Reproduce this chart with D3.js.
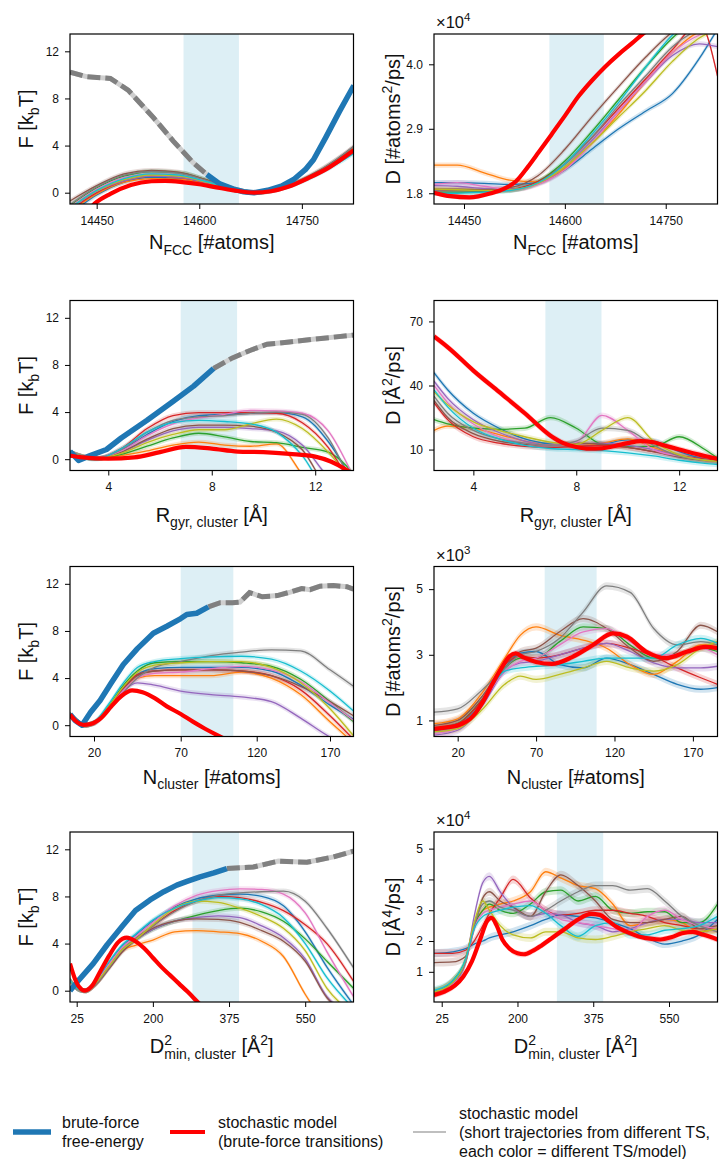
<!DOCTYPE html>
<html>
<head>
<meta charset="utf-8">
<script src="https://cdn.jsdelivr.net/npm/d3@7/dist/d3.min.js"></script>
<style>
html,body{margin:0;padding:0;background:#fff;}
svg{display:block;}
</style>
</head>
<body>
<svg id="fig" width="719" height="1159"></svg>
<script>
const FONT = '"Liberation Sans", Arial, Helvetica, sans-serif';
const tab10 = ["#1f77b4","#ff7f0e","#2ca02c","#d62728","#9467bd","#8c564b","#e377c2","#7f7f7f","#bcbd22","#17becf"];

// ---------- tick values ----------
const ticksNfcc = [14450, 14600, 14750];
const ticksF = [0, 4, 8, 12];
const ticksDNfcc = [1.8, 2.9, 4.0];
const ticksRgyr = [4, 8, 12];
const ticksDRgyr = [10, 40, 70];
const ticksNcl = [20, 70, 120, 170];
const ticksDNcl = [1, 3, 5];
const ticksD2 = [25, 200, 375, 550];
const ticksDD2 = [1, 2, 3, 4, 5];

// ---------- domains / shaded TS regions ----------
const domF = [-0.96, 13.47];
const domNfccL = [14411, 14825.5];
const domNfccR = [14405.4, 14827];
const domDNfcc = [1.617, 4.517];
const domRgyrL = [2.52, 13.48];
const domRgyrR = [2.47, 13.49];
const domDRgyr = [0.2, 79.8];
const domNclLBreaks = [6, 20, 70, 120, 170, 186];
const domNclLFrac = [0, 0.0847, 0.3905, 0.6586, 0.9171, 1];
const domNclR = [4.9, 185.7];
const domDNcl = [0.51, 5.69];
const domD2L = [9.6, 661];
const domD2R = [7.2, 662];
const domDD2 = [0.02, 5.54];
const shadeNfcc = [14577, 14658];
const shadeRgyr = [6.8, 8.98];
const shadeNclL = [70, 104.6];
const shadeNclR = [75.5, 108.6];
const shadeD2 = [291, 398];

// ---------- Panel 1: F vs N_FCC ----------
const fNfccGrid = [14411, 14450, 14490, 14530, 14570, 14610, 14650, 14680, 14720, 14760, 14800, 14825];
const fNfccThin = [
  [-1.8, -0.2, 0.9, 1.3, 1.2, 0.8, 0.25, 0, 0.4, 1.3, 2.6, 3.6],
  [-1.6, -0.1, 0.9, 1.2, 1.15, 0.8, 0.25, 0, 0.35, 1.25, 2.5, 3.5],
  [-1.1, 0.4, 1.4, 1.8, 1.7, 1.1, 0.35, 0, 0.4, 1.3, 2.7, 3.7],
  [-1.5, 0.0, 1.0, 1.4, 1.3, 0.85, 0.27, 0, 0.38, 1.3, 2.6, 3.7],
  [-1.4, 0.1, 1.0, 1.4, 1.3, 0.85, 0.25, 0, 0.35, 1.25, 2.5, 3.5],
  [-0.7, 0.6, 1.6, 1.9, 1.75, 1.1, 0.35, 0, 0.4, 1.4, 2.8, 3.9],
  [-1.2, 0.3, 1.3, 1.6, 1.5, 1.0, 0.3, 0, 0.35, 1.3, 2.6, 3.6],
  [-1.0, 0.5, 1.5, 1.8, 1.65, 1.05, 0.3, 0, 0.4, 1.35, 2.8, 3.9],
  [-1.3, 0.15, 1.1, 1.5, 1.4, 0.9, 0.28, 0, 0.38, 1.3, 2.6, 3.7],
  [-1.3, 0.2, 1.2, 1.6, 1.5, 0.95, 0.3, 0, 0.35, 1.2, 2.4, 3.3]
];
const fNfccBlue = [[14611,1.55],[14630,0.75],[14650,0.3],[14665,0.08],[14680,0],[14700,0.2],[14720,0.56],[14738,1.12],[14755,1.95],[14767,2.8],[14785,4.7],[14805,6.9],[14826,9.1]];
const fNfccGray = [[14411,10.24],[14435,9.85],[14470,9.7],[14496,8.71],[14533,6.37],[14562,4.38],[14591,2.55],[14611,1.55]];
const fNfccRed = [[14430,-2.0],[14447,-0.93],[14470,-0.1],[14500,0.65],[14530,0.97],[14550,1.0],[14575,0.9],[14600,0.72],[14625,0.45],[14650,0.2],[14680,0.0],[14705,0.12],[14730,0.5],[14760,1.25],[14790,2.15],[14826,3.6]];

// ---------- Panel 2: D vs N_FCC (x1e4) ----------
const dNfccGrid = [14405, 14440, 14480, 14520, 14560, 14600, 14640, 14680, 14720, 14760, 14800, 14827];
const dNfccThin = [
  [1.98,1.98,1.97,1.95,1.98,2.2,2.55,2.9,3.2,3.5,4.1,4.6],
  [2.28,2.28,2.15,2.02,2.0,2.22,2.65,3.15,3.7,4.2,4.55,4.6],
  [1.82,1.82,1.83,1.86,2.0,2.35,2.85,3.4,3.95,4.45,4.8,4.9],
  [1.86,1.85,1.85,1.87,2.0,2.3,2.75,3.25,3.75,4.25,4.7,3.8],
  [1.93,1.92,1.88,1.87,1.96,2.25,2.7,3.2,3.7,4.15,4.35,4.3],
  [1.87,1.87,1.86,1.9,2.1,2.55,3.1,3.62,4.12,4.55,4.8,4.9],
  [1.95,1.98,1.92,1.86,1.95,2.2,2.65,3.2,3.7,4.2,4.5,4.6],
  [1.84,1.84,1.84,1.86,1.98,2.3,2.75,3.3,3.8,4.3,4.6,4.7],
  [1.87,1.86,1.85,1.86,1.97,2.25,2.65,3.1,3.55,4.05,4.45,4.6],
  [1.80,1.80,1.82,1.85,1.98,2.3,2.8,3.35,3.95,4.5,4.85,5.0]
];
const dNfccRed = [[14405,1.81],[14430,1.75],[14458,1.73],[14490,1.8],[14510,1.88],[14527,2.0],[14545,2.25],[14561,2.5],[14580,2.8],[14600,3.12],[14620,3.45],[14640,3.72],[14660,3.96],[14680,4.17],[14700,4.36],[14716,4.52],[14740,4.72]];

// ---------- Panel 3: F vs R_gyr ----------
const fRgyrGrid = [2.52, 3.5, 4.5, 5.5, 6.5, 7.5, 8.5, 9.5, 10.5, 11.5, 12.5, 13.48];
const fRgyrThin = [
  [0.6, 0.05, 0.75, 2.1, 3.2, 3.7, 3.8, 3.9, 3.95, 3.6, 1.5, -2],
  [0.6, 0.05, 0.3, 0.7, 1.2, 1.45, 1.2, 1.1, 1.3, -1.3, -4, -5],
  [0.6, 0.05, 0.4, 1.1, 1.8, 2.2, 1.9, 1.5, 1.4, 1.0, 0.6, -1.2],
  [0.6, 0.05, 0.9, 2.6, 3.7, 3.95, 3.95, 3.95, 3.9, 3.1, 1.0, -2.5],
  [0.6, 0.05, 0.6, 1.6, 2.4, 2.7, 2.7, 2.6, 2.4, 1.2, -1.5, -3],
  [0.6, 0.05, 0.6, 1.7, 2.6, 2.9, 2.9, 2.8, 2.3, 0.8, -2.5, -3.5],
  [0.6, 0.05, 0.7, 2.0, 3.0, 3.5, 3.8, 4.15, 4.1, 3.9, 2.4, -1.5],
  [0.6, 0.05, 0.8, 2.3, 3.3, 3.6, 3.7, 3.9, 4.0, 3.8, 1.8, -2.5],
  [0.6, 0.05, 0.5, 1.4, 2.1, 2.5, 2.5, 3.0, 3.4, 2.6, 0.6, -2],
  [0.6, 0.0, 0.9, 2.3, 3.1, 3.3, 3.2, 3.0, 2.3, 0.3, -3, -4]
];
const fRgyrBlue = [[2.52,0.65],[2.85,-0.1],[3.3,0.3],[3.93,0.82],[4.5,1.8],[5.5,3.3],[6.5,4.9],[7.3,6.2],[8.07,7.7]];
const fRgyrGray = [[8.07,7.7],[8.8,8.6],[9.5,9.25],[10.14,9.76],[11,9.95],[12,10.2],[13.48,10.53]];
const fRgyrRed = [[2.52,0.3],[3,0.15],[4,0.05],[5,0.15],[6,0.6],[7,1.05],[8,0.9],[9,0.65],[10,0.6],[11,0.45],[12,0.22],[12.6,-0.2],[13.2,-0.9],[13.48,-1.3]];

// ---------- Panel 4: D vs R_gyr ----------
const dRgyrGrid = [2.47, 3, 4, 5, 6, 7, 8, 9, 10, 11, 12, 13, 13.49];
const dRgyrThin = [
  [46, 38, 27, 20, 15, 12.5, 11.5, 12.5, 14.5, 14, 9, 5.5, 4.5],
  [19, 21, 20, 17, 14, 12, 12, 13, 15, 11, 7, 5, 4.5],
  [24, 22, 20, 19.5, 20, 25, 20, 12.5, 11.5, 11.5, 16, 10, 6],
  [32, 24, 16, 13, 11.5, 11, 11.5, 12, 11, 9, 7, 5.5, 5],
  [42, 34, 24, 18, 14, 12, 12.5, 13, 12, 10, 7, 5, 4.5],
  [33, 25, 17.5, 14, 12.5, 12, 13, 12.5, 11, 9, 6.5, 5, 4.5],
  [40, 32, 22, 16, 13, 12, 13.5, 26, 19, 10, 7, 5, 4.5],
  [35, 27, 19, 15, 13, 12, 14, 20, 19, 12, 7, 5, 4.5],
  [37, 31, 23, 19, 16, 13.5, 12.5, 19, 25, 14, 7.5, 5, 4.5],
  [38, 30, 20, 15, 12, 10.5, 10, 9.5, 8.5, 7, 5, 3.5, 3]
];
const dRgyrRed = [[2.47,63],[3,58],[4,47],[5,37],[6,27],[7,16.5],[7.5,13],[8,11.2],[8.5,10.4],[9,10.6],[9.5,11.7],[10,13],[10.5,14],[11,13.4],[11.5,11.7],[12,10],[12.5,8.4],[13,7],[13.49,5.6]];

// ---------- Panel 5: F vs N_cluster ----------
const fNclGrid = [6, 10, 14, 20, 28, 36, 45, 55, 70, 90, 110, 130, 150, 170, 186];
const fNclThin = [
  [0.9, 0.4, 0, 0.2, 1.4, 3.0, 4.3, 4.8, 4.9, 4.9, 4.9, 4.6, 3.4, 1.7, 0.5],
  [0.9, 0.4, 0, 0.2, 1.4, 3.0, 4.0, 4.2, 4.2, 4.2, 4.5, 4.0, 2.6, 0.3, -1.5],
  [0.9, 0.4, 0, 0.2, 1.5, 3.2, 4.6, 5.3, 5.4, 5.4, 5.3, 5.0, 3.9, 2.0, 0.3],
  [0.9, 0.4, 0, 0.2, 1.4, 3.0, 4.3, 4.6, 4.7, 4.7, 4.6, 4.2, 3.0, 0.8, -1.2],
  [0.9, 0.4, 0, 0.2, 1.4, 2.8, 3.6, 3.4, 2.9, 2.6, 2.4, 2.0, 0.6, -1.0, -1.8],
  [0.9, 0.4, 0, 0.15, 1.3, 2.9, 4.2, 4.6, 4.7, 4.7, 4.6, 4.2, 3.3, 2.0, 0.8],
  [0.9, 0.4, 0, 0.15, 1.3, 2.8, 4.0, 4.4, 4.5, 4.8, 5.0, 4.7, 3.7, 1.9, 0.4],
  [0.9, 0.4, 0, 0.15, 1.2, 2.6, 4.0, 4.9, 5.4, 5.9, 6.2, 6.4, 6.3, 4.7, 3.3],
  [0.9, 0.4, 0, 0.2, 1.5, 3.1, 4.5, 5.1, 5.3, 5.4, 5.4, 4.9, 3.6, 1.4, -0.9],
  [0.9, 0.4, 0, 0.25, 1.7, 3.4, 4.9, 5.4, 5.65, 5.8, 5.85, 5.6, 4.6, 2.9, 1.2]
];
const fNclBlue = [[6,0.93],[9,0.4],[13,0],[18,1.1],[23.5,2.1],[30,3.6],[36.9,5.15],[45,6.5],[54.2,7.8],[62,8.4],[70,9.05],[74,9.4],[80.5,9.5],[88.2,10.05]];
const fNclGray = [[88.2,10.05],[96,10.4],[104,10.4],[109,10.45],[115.3,11.25],[123.8,10.9],[134,11.0],[143,11.3],[150.7,11.6],[156.4,11.5],[163.2,11.8],[172.3,11.85],[181.5,11.75],[186,11.55]];
const fNclRed = [[6,0.9],[9,0.4],[14,0.03],[18,0.1],[24,0.6],[30,1.6],[36,2.5],[42,2.95],[48,2.8],[55,2.3],[62,1.6],[70,0.95],[78,0.3],[86,-0.3],[95,-0.9],[105,-1.5]];

// ---------- Panel 6: D vs N_cluster (x1e3) ----------
const dNclGrid = [4.9, 20, 35, 50, 60, 70, 85, 100, 115, 130, 145, 160, 175, 185.7];
const dNclThin = [
  [0.7, 0.85, 1.6, 2.6, 3.05, 3.1, 2.7, 2.6, 2.9, 2.7, 2.4, 2.1, 1.95, 2.0],
  [0.9, 1.05, 1.8, 2.9, 3.6, 3.85, 3.6, 3.45, 3.2, 2.7, 2.4, 2.8, 3.3, 3.3],
  [0.75, 0.9, 1.6, 2.6, 2.9, 2.9, 3.4, 3.85, 3.8, 3.3, 2.9, 3.0, 3.2, 3.1],
  [0.75, 0.9, 1.6, 2.7, 2.95, 2.9, 3.0, 3.2, 3.35, 3.2, 2.95, 2.6, 2.3, 2.1],
  [0.55, 0.7, 1.4, 2.5, 2.75, 2.8, 3.0, 3.2, 3.35, 3.1, 2.75, 2.6, 2.6, 2.65],
  [0.85, 1.0, 1.7, 2.7, 3.1, 3.2, 3.7, 4.1, 3.8, 3.2, 2.8, 3.1, 3.9, 3.7],
  [0.6, 0.75, 1.5, 2.5, 2.8, 2.9, 3.3, 3.7, 3.8, 3.4, 3.0, 3.0, 3.2, 3.0],
  [1.25, 1.35, 1.9, 2.6, 3.0, 3.1, 3.5, 4.3, 5.1, 4.9, 3.8, 3.3, 3.4, 3.3],
  [0.65, 0.75, 1.3, 2.1, 2.35, 2.25, 2.4, 2.6, 2.8, 2.6, 2.5, 2.7, 3.2, 3.4],
  [0.7, 0.85, 1.5, 2.5, 2.6, 2.65, 2.7, 2.8, 2.9, 2.9, 2.9, 3.3, 3.5, 3.35]
];
const dNclRed = [[4.9,0.74],[12,0.78],[21,0.86],[28,1.05],[36,1.56],[42,2.1],[48,2.6],[53,2.95],[57,3.04],[62,2.92],[70,2.78],[80,2.72],[93,2.93],[106,3.29],[119,3.65],[128,3.55],[140,3.1],[153,2.9],[166,3.09],[178,3.24],[185.7,3.2]];

// ---------- Panel 7: F vs D2min ----------
const fD2Grid = [9.6, 30, 45, 70, 100, 130, 160, 200, 250, 300, 350, 400, 450, 500, 550, 600, 661];
const fD2Thin = [
  [0.9, 0.1, 0, 0.8, 2.4, 3.8, 4.7, 5.9, 7.1, 7.8, 8.1, 8.2, 8.0, 7.2, 5.0, 2.0, -1.2],
  [0.9, 0.1, 0, 0.6, 2.0, 3.4, 3.85, 4.3, 5.0, 5.1, 5.0, 4.85, 4.2, 2.9, -0.3, -3, -5],
  [0.9, 0.1, 0, 0.6, 2.0, 3.4, 4.3, 5.2, 5.9, 6.4, 6.8, 7.0, 6.7, 5.9, 4.4, 2.5, 0.2],
  [0.9, 0.1, 0, 0.6, 2.0, 3.4, 4.4, 5.5, 6.8, 7.6, 8.0, 7.9, 7.5, 6.8, 5.6, 4.0, 0.8],
  [0.9, 0.1, 0, 0.6, 2.0, 3.4, 4.3, 5.2, 5.9, 6.2, 6.35, 6.2, 5.5, 4.5, 2.7, -0.5, -2],
  [0.9, 0.1, 0, 0.6, 1.9, 3.3, 4.3, 5.3, 5.9, 6.1, 6.05, 5.8, 5.1, 4.2, 2.5, -0.6, -2],
  [0.9, 0.1, 0, 0.8, 2.3, 3.7, 4.6, 5.8, 7.2, 8.1, 8.5, 8.65, 8.6, 8.2, 6.6, 3.3, -0.5],
  [0.9, 0.1, 0, 0.6, 2.0, 3.5, 4.4, 5.5, 6.7, 7.6, 8.1, 8.3, 8.4, 8.45, 7.6, 5.3, 1.95],
  [0.9, 0.1, 0, 0.7, 2.1, 3.5, 4.3, 5.6, 7.0, 7.6, 7.5, 7.0, 6.3, 5.3, 3.4, 0.2, -2],
  [0.9, 0.1, 0, 0.9, 2.5, 3.9, 4.8, 6.0, 7.0, 7.6, 7.9, 7.8, 7.3, 6.2, 4.0, 1.1, -1.5]
];
const fD2Blue = [[9.6,0.0],[30,0.9],[63,2.3],[95,3.9],[132,5.57],[160,6.8],[193.5,7.7],[225,8.4],[255,8.96],[280,9.3],[308.5,9.66],[340,10.0],[370,10.37]];
const fD2Gray = [[370,10.37],[431,10.5],[488.6,11.0],[553.9,10.9],[615,11.36],[661,11.84]];
const fD2Red = [[9.6,2.3],[20,1.1],[30,0.35],[44,0],[60,0.4],[80,1.7],[100,3.0],[120,4.1],[140,4.5],[160,4.2],[180,3.6],[200,2.8],[220,2.0],[240,1.3],[260,0.6],[280,-0.1],[300,-0.85],[320,-1.6]];

// ---------- Panel 8: D vs D2min (x1e4) ----------
const dD2Grid = [7.2, 50, 80, 100, 120, 135, 160, 190, 230, 265, 300, 340, 380, 420, 460, 500, 540, 580, 620, 662];
const dD2Thin = [
  [1.6,1.65,1.75,1.9,2.0,2.1,2.2,2.3,2.5,2.7,2.85,2.8,2.75,2.6,2.4,2.1,1.9,2.0,2.2,2.7],
  [0.3,0.7,1.3,2.5,3.0,3.1,3.2,3.3,3.6,4.25,4.05,3.8,3.7,3.2,2.5,2.6,2.7,2.6,2.3,2.4],
  [0.35,0.7,1.4,2.5,3.0,3.2,3.0,2.9,3.2,3.6,3.65,3.3,3.45,3.0,2.9,2.95,2.95,2.6,2.6,3.2],
  [1.6,1.6,1.7,2.0,2.5,2.9,3.4,4.0,3.4,3.0,2.85,2.9,3.0,3.0,2.9,2.8,2.6,2.5,2.4,2.4],
  [0.3,0.6,1.3,2.8,3.9,4.1,3.6,3.1,2.8,2.9,2.85,2.6,2.5,2.3,2.4,2.6,2.7,2.7,2.6,2.6],
  [1.3,1.32,1.5,2.4,3.4,3.6,3.3,3.1,2.8,3.6,4.15,3.8,3.3,2.7,2.6,2.6,2.7,2.8,2.4,2.5],
  [0.3,0.6,1.3,2.4,2.9,3.0,3.1,3.2,3.3,3.0,2.7,2.6,2.5,2.4,2.3,2.8,3.0,2.7,2.5,2.4],
  [0.35,0.65,1.3,2.5,3.2,3.3,3.1,3.0,2.8,3.0,3.3,3.6,3.8,3.8,3.65,3.7,3.3,2.8,2.5,2.3],
  [0.35,0.65,1.4,2.6,3.3,3.0,2.5,2.2,2.1,2.3,2.3,2.1,2.05,2.15,2.3,2.4,2.5,2.35,2.3,2.4],
  [0.4,0.7,1.4,2.4,2.8,2.9,3.0,3.1,3.15,2.9,2.5,2.15,2.5,2.6,2.2,2.2,2.35,2.4,2.5,2.8]
];
const dD2Red = [[7.2,0.25],[30,0.35],[55,0.55],[75,0.85],[95,1.35],[115,2.1],[130,2.65],[140,2.75],[152,2.5],[165,2.05],[182,1.75],[200,1.6],[215,1.57],[235,1.68],[255,1.85],[280,2.1],[310,2.4],[340,2.7],[370,2.88],[390,2.85],[410,2.65],[430,2.45],[455,2.28],[480,2.15],[510,2.07],[530,2.05],[555,2.12],[580,2.25],[605,2.3],[630,2.2],[662,2.05]];

// ---------- labels ----------
const lblNfcc = [["N"],["FCC","sub"],[" [#atoms]"]];
const lblRgyr = [["R"],["gyr, cluster","sub"],[" [Å]"]];
const lblNcl = [["N"],["cluster","sub"],[" [#atoms]"]];
const lblD2 = [["D"],["2","sup"],["min, cluster","sub",-7.8],[" [Å"],["2","sup"],["]"]];
const lblF = [["F [k"],["b","sub"],["T]"]];
const lblDatoms = [["D [#atoms"],["2","sup"],["/ps]"]];
const lblDA2 = [["D [Å"],["2","sup"],["/ps]"]];
const lblDA4 = [["D [Å"],["4","sup"],["/ps]"]];
const legendTexts = [
  ["brute-force", "free-energy"],
  ["stochastic model", "(brute-force transitions)"],
  ["stochastic model", "(short trajectories from different TS,", "each color = different TS/model)"]
];

// ---------- layout ----------
const W = 283.5, H = 170;
const colLeft = [70, 434];
const rowTop = [34, 300.5, 566.5, 832];
const xLabelOff = [45, 51, 47, 51];

const svg = d3.select("#fig");
const defs = svg.append("defs");

function rich(sel, parts, fs) {
  let level = 0;
  parts.forEach(p => {
    const kind = p[1];
    const target = kind === "sub" ? 0.28 * fs : kind === "sup" ? -0.42 * fs : 0;
    const ts = sel.append("tspan").text(p[0]).attr("dy", target - level);
    if (kind) ts.attr("font-size", 0.7 * fs);
    if (p[2]) ts.attr("dx", p[2]);
    level = target;
  });
}

function drawPanel(o) {
  const left = colLeft[o.col], top = rowTop[o.row];
  const x = o.xFrac
    ? d3.scaleLinear().domain(o.xDomain).range(o.xFrac.map(f => left + f * W))
    : d3.scaleLinear().domain(o.xDomain).range([left, left + W]);
  const y = d3.scaleLinear().domain(o.yDomain).range([top + H, top]);
  const cid = "clip" + o.id;
  defs.append("clipPath").attr("id", cid).append("rect")
    .attr("x", left).attr("y", top).attr("width", W).attr("height", H);
  const g = svg.append("g").attr("clip-path", `url(#${cid})`);

  g.append("rect").attr("x", x(o.shade[0])).attr("y", top)
    .attr("width", x(o.shade[1]) - x(o.shade[0])).attr("height", H)
    .attr("fill", "#add8e6").attr("fill-opacity", 0.42);

  const curve = d3.curveMonotoneX;
  const line = d3.line().x(d => x(d[0])).y(d => y(d[1])).curve(curve);
  const lineLin = d3.line().x(d => x(d[0])).y(d => y(d[1]));
  const area = b => d3.area().x(d => x(d[0])).y0(d => y(d[1] - b)).y1(d => y(d[1] + b)).curve(curve);

  const series = o.thin.map(vals => o.grid.map((gx, j) => [gx, vals[j]]));
  series.forEach((s, i) => g.append("path").attr("d", area(o.band)(s))
    .attr("fill", tab10[i]).attr("fill-opacity", 0.2).attr("stroke", "none"));
  if (o.redBand) g.append("path").attr("d", area(o.redBand)(o.red))
    .attr("fill", "#ff0000").attr("fill-opacity", 0.18);
  series.forEach((s, i) => g.append("path").attr("d", line(s))
    .attr("fill", "none").attr("stroke", tab10[i]).attr("stroke-width", 1.3));

  if (o.gray) {
    g.append("path").attr("d", lineLin(o.gray)).attr("fill", "none")
      .attr("stroke", "#cfcfcf").attr("stroke-width", 5);
    g.append("path").attr("d", lineLin(o.gray)).attr("fill", "none")
      .attr("stroke", "#808080").attr("stroke-width", 5).attr("stroke-dasharray", "13,5");
  }
  if (o.blue) {
    g.append("path").attr("d", lineLin(o.blue)).attr("fill", "none")
      .attr("stroke", "#1f77b4").attr("stroke-width", 5.5).attr("stroke-linejoin", "round");
  }
  g.append("path").attr("d", line(o.red)).attr("fill", "none")
    .attr("stroke", "#ff0000").attr("stroke-width", 4.2);

  svg.append("rect").attr("x", left).attr("y", top).attr("width", W).attr("height", H)
    .attr("fill", "none").attr("stroke", "#000").attr("stroke-width", 1.2);

  const ax = svg.append("g").attr("transform", `translate(0,${top + H})`)
    .call(d3.axisBottom(x).tickValues(o.xTicks).tickSize(5).tickPadding(7).tickFormat(d3.format("d")));
  ax.select(".domain").remove();
  ax.selectAll("line").attr("stroke", "#000");
  ax.selectAll("text").attr("font-size", 12).attr("font-family", FONT).attr("fill", "#111");

  const ay = svg.append("g").attr("transform", `translate(${left},0)`)
    .call(d3.axisLeft(y).tickValues(o.yTicks).tickSize(5).tickPadding(6).tickFormat(o.yFmt || d3.format("d")));
  ay.select(".domain").remove();
  ay.selectAll("line").attr("stroke", "#000");
  ay.selectAll("text").attr("font-size", 12).attr("font-family", FONT).attr("fill", "#111");

  const xl = svg.append("text").attr("x", left + W / 2).attr("y", top + H + xLabelOff[o.row])
    .attr("text-anchor", "middle").attr("font-family", FONT).attr("font-size", 20).attr("fill", "#111");
  rich(xl, o.xLabel, 20);

  const ylx = o.col === 0 ? 33 : 400;
  const yl = svg.append("text").attr("transform", `translate(${ylx},${top + H / 2}) rotate(-90)`)
    .attr("text-anchor", "middle").attr("font-family", FONT).attr("font-size", 20).attr("fill", "#111");
  rich(yl, o.yLabel, 20);

  if (o.mult) {
    const m = svg.append("text").attr("x", left + 2).attr("y", top - 6)
      .attr("font-family", FONT).attr("font-size", 16.5).attr("fill", "#111");
    rich(m, [["×10"], [o.mult, "sup"]], 16.5);
  }
}

const fmt1 = d3.format(".1f");

drawPanel({id: 1, col: 0, row: 0, xDomain: domNfccL, yDomain: domF, xTicks: ticksNfcc, yTicks: ticksF,
  shade: shadeNfcc, grid: fNfccGrid, thin: fNfccThin, band: 0.2, red: fNfccRed, blue: fNfccBlue, gray: fNfccGray,
  xLabel: lblNfcc, yLabel: lblF});
drawPanel({id: 2, col: 1, row: 0, xDomain: domNfccR, yDomain: domDNfcc, xTicks: ticksNfcc, yTicks: ticksDNfcc, yFmt: fmt1,
  shade: shadeNfcc, grid: dNfccGrid, thin: dNfccThin, band: 0.045, red: dNfccRed, redBand: 0.04,
  xLabel: lblNfcc, yLabel: lblDatoms, mult: "4"});
drawPanel({id: 3, col: 0, row: 1, xDomain: domRgyrL, yDomain: domF, xTicks: ticksRgyr, yTicks: ticksF,
  shade: shadeRgyr, grid: fRgyrGrid, thin: fRgyrThin, band: 0.2, red: fRgyrRed, blue: fRgyrBlue, gray: fRgyrGray,
  xLabel: lblRgyr, yLabel: lblF});
drawPanel({id: 4, col: 1, row: 1, xDomain: domRgyrR, yDomain: domDRgyr, xTicks: ticksRgyr, yTicks: ticksDRgyr,
  shade: shadeRgyr, grid: dRgyrGrid, thin: dRgyrThin, band: 1.3, red: dRgyrRed, redBand: 1.6,
  xLabel: lblRgyr, yLabel: lblDA2});
drawPanel({id: 5, col: 0, row: 2, xDomain: domNclLBreaks, xFrac: domNclLFrac, yDomain: domF, xTicks: ticksNcl, yTicks: ticksF,
  shade: shadeNclL, grid: fNclGrid, thin: fNclThin, band: 0.22, red: fNclRed, blue: fNclBlue, gray: fNclGray,
  xLabel: lblNcl, yLabel: lblF});
drawPanel({id: 6, col: 1, row: 2, xDomain: domNclR, yDomain: domDNcl, xTicks: ticksNcl, yTicks: ticksDNcl,
  shade: shadeNclR, grid: dNclGrid, thin: dNclThin, band: 0.11, red: dNclRed, redBand: 0.1,
  xLabel: lblNcl, yLabel: lblDatoms, mult: "3"});
drawPanel({id: 7, col: 0, row: 3, xDomain: domD2L, yDomain: domF, xTicks: ticksD2, yTicks: ticksF,
  shade: shadeD2, grid: fD2Grid, thin: fD2Thin, band: 0.22, red: fD2Red, blue: fD2Blue, gray: fD2Gray,
  xLabel: lblD2, yLabel: lblF});
drawPanel({id: 8, col: 1, row: 3, xDomain: domD2R, yDomain: domDD2, xTicks: ticksD2, yTicks: ticksDD2,
  shade: shadeD2, grid: dD2Grid, thin: dD2Thin, band: 0.13, red: dD2Red, redBand: 0.1,
  xLabel: lblD2, yLabel: lblDA4, mult: "4"});

// ---------- legend ----------
const legY = 1132;
const legItems = [
  {x0: 13, x1: 51, tx: 62, color: "#1f77b4", w: 5.5},
  {x0: 170, x1: 205, tx: 218, color: "#ff0000", w: 4.2},
  {x0: 413, x1: 446, tx: 459, color: "#aaaaaa", w: 1.6}
];
const lg = svg.append("g");
legItems.forEach((it, i) => {
  lg.append("line").attr("x1", it.x0).attr("x2", it.x1).attr("y1", legY).attr("y2", legY)
    .attr("stroke", it.color).attr("stroke-width", it.w);
  const lines = legendTexts[i];
  const lh = 19;
  const y0 = legY + 5.5 - (lines.length - 1) * lh / 2;
  lines.forEach((t, k) => lg.append("text").attr("x", it.tx).attr("y", y0 + k * lh)
    .attr("font-family", FONT).attr("font-size", 16).attr("fill", "#111").text(t));
});
</script>
</body>
</html>
